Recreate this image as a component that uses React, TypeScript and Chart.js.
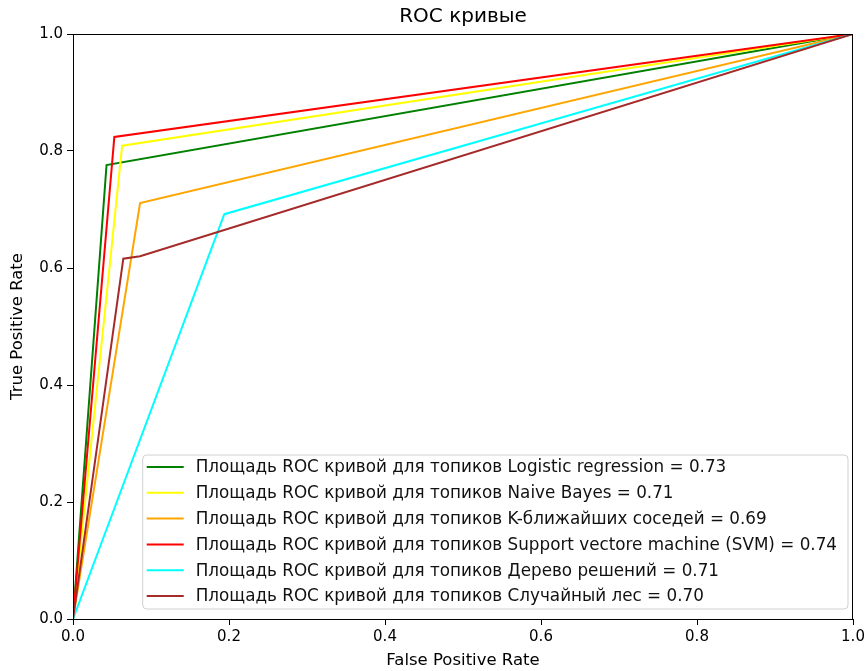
import React, { useEffect, useRef } from "react";
import { Chart, registerables } from "chart.js";

Chart.register(...registerables);

const TITLE = "ROC кривые";
const X_LABEL = "False Positive Rate";
const Y_LABEL = "True Positive Rate";

const SERIES_NAMES = [
  "Площадь ROC кривой для топиков Logistic regression = 0.73",
  "Площадь ROC кривой для топиков Naive Bayes = 0.71",
  "Площадь ROC кривой для топиков K-ближайших соседей = 0.69",
  "Площадь ROC кривой для топиков Support vectore machine (SVM) = 0.74",
  "Площадь ROC кривой для топиков Дерево решений = 0.71",
  "Площадь ROC кривой для топиков Случайный лес = 0.70",
];
const SERIES_COLORS = ["#008000", "#ffff00", "#ffa500", "#ff0000", "#00ffff", "#a52a2a"];

// FPR / TPR per model
const LR_FPR = [0, 0.043, 1];
const LR_TPR = [0, 0.776, 1];
const NB_FPR = [0, 0.063, 1];
const NB_TPR = [0, 0.809, 1];
const KNN_FPR = [0, 0.086, 1];
const KNN_TPR = [0, 0.711, 1];
const SVM_FPR = [0, 0.053, 1];
const SVM_TPR = [0, 0.824, 1];
const DT_FPR = [0, 0.194, 1];
const DT_TPR = [0, 0.692, 1];
const RF_FPR = [0, 0.0645, 0.086, 1];
const RF_TPR = [0, 0.616, 0.62, 1];

const FPRS = [LR_FPR, NB_FPR, KNN_FPR, SVM_FPR, DT_FPR, RF_FPR];
const TPRS = [LR_TPR, NB_TPR, KNN_TPR, SVM_TPR, DT_TPR, RF_TPR];

const FONT = "'DejaVu Sans', sans-serif";

const framePlugin = {
  id: "frameAndTitle",
  afterDatasetsDraw(chart: any) {
    const { ctx, chartArea } = chart;
    ctx.save();
    ctx.strokeStyle = "#000";
    ctx.lineWidth = 1;
    ctx.strokeRect(
      Math.round(chartArea.left) + 0.5,
      Math.round(chartArea.top) + 0.5,
      Math.round(chartArea.right - chartArea.left) - 1,
      Math.round(chartArea.bottom - chartArea.top)
    );
    ctx.fillStyle = "#000";
    ctx.font = `20px ${FONT}`;
    ctx.textAlign = "center";
    ctx.textBaseline = "middle";
    ctx.fillText(TITLE, (chartArea.left + chartArea.right) / 2, 17);

    // legend
    const fs = 16.8;
    ctx.font = `${fs}px ${FONT}`;
    const datasets = chart.data.datasets;
    let maxW = 0;
    datasets.forEach((d: any) => {
      maxW = Math.max(maxW, ctx.measureText(d.label).width);
    });
    const rowH = 25.8;
    const boxW = maxW + 53 + 11;
    const boxH = rowH * (datasets.length - 1) + 25;
    const boxRight = chartArea.right - 5;
    const boxBottom = chartArea.bottom - 10;
    const bx = boxRight - boxW;
    const by = boxBottom - boxH;
    ctx.beginPath();
    const r = 4;
    ctx.moveTo(bx + r, by);
    ctx.lineTo(bx + boxW - r, by);
    ctx.quadraticCurveTo(bx + boxW, by, bx + boxW, by + r);
    ctx.lineTo(bx + boxW, by + boxH - r);
    ctx.quadraticCurveTo(bx + boxW, by + boxH, bx + boxW - r, by + boxH);
    ctx.lineTo(bx + r, by + boxH);
    ctx.quadraticCurveTo(bx, by + boxH, bx, by + boxH - r);
    ctx.lineTo(bx, by + r);
    ctx.quadraticCurveTo(bx, by, bx + r, by);
    ctx.closePath();
    ctx.fillStyle = "rgba(255,255,255,0.85)";
    ctx.fill();
    ctx.strokeStyle = "#d0d0d0";
    ctx.stroke();
    ctx.textAlign = "left";
    ctx.textBaseline = "middle";
    datasets.forEach((d: any, i: number) => {
      const y = by + 12 + i * rowH;
      ctx.strokeStyle = d.borderColor;
      ctx.lineWidth = 2;
      ctx.beginPath();
      ctx.moveTo(bx + 4, y);
      ctx.lineTo(bx + 41, y);
      ctx.stroke();
      ctx.fillStyle = "#111";
      ctx.fillText(d.label, bx + 53, y + 1);
    });
    ctx.restore();
  },
};

export default function App() {
  const ref = useRef<HTMLCanvasElement>(null);
  useEffect(() => {
    if (!ref.current) return;
    const datasets = SERIES_NAMES.map((name, i) => ({
      label: name,
      data: FPRS[i].map((x, j) => ({ x, y: TPRS[i][j] })),
      borderColor: SERIES_COLORS[i],
      backgroundColor: SERIES_COLORS[i],
      borderWidth: 2,
      pointRadius: 0,
      fill: false,
      tension: 0,
      order: -i,
    }));
    const chart = new Chart(ref.current, {
      type: "line",
      data: { datasets },
      plugins: [framePlugin],
      options: {
        responsive: false,
        animation: false,
        layout: { padding: { top: 34, right: 13, left: 0, bottom: 0 } },
        plugins: {
          legend: { display: false },
          title: { display: false },
          tooltip: { enabled: false },
        },
        scales: {
          x: {
            type: "linear",
            min: 0,
            max: 1,
            afterFit: (s: any) => {
              s.height = 52;
              s.paddingLeft = 0;
              s.paddingRight = 0;
            },
            grid: { drawOnChartArea: false, tickLength: 6, color: "#000", drawTicks: true },
            border: { display: false },
            ticks: {
              stepSize: 0.2,
              color: "#000",
              padding: 3,
              font: { family: FONT, size: 15 },
              callback: (v: any) => Number(v).toFixed(1),
              maxRotation: 0,
            },
            title: {
              display: true,
              text: X_LABEL,
              color: "#000",
              font: { family: FONT, size: 16.5 },
              padding: { top: 0, bottom: 0 },
            },
          },
          y: {
            type: "linear",
            min: 0,
            max: 1,
            afterFit: (s: any) => {
              s.width = 73;
              s.paddingTop = 0;
              s.paddingBottom = 0;
            },
            grid: { drawOnChartArea: false, tickLength: 6, color: "#000" },
            border: { display: false },
            ticks: {
              stepSize: 0.2,
              color: "#000",
              padding: 4,
              font: { family: FONT, size: 15 },
              callback: (v: any) => Number(v).toFixed(1),
            },
            title: {
              display: true,
              text: Y_LABEL,
              color: "#000",
              font: { family: FONT, size: 16.5 },
              padding: { top: 8, bottom: 0 },
            },
          },
        },
      },
    });
    return () => chart.destroy();
  }, []);
  return (
    <div style={{ position: "fixed", left: 0, top: 0, width: 866, height: 671, background: "#fff" }}>
      <canvas ref={ref} width={866} height={671} />
    </div>
  );
}
